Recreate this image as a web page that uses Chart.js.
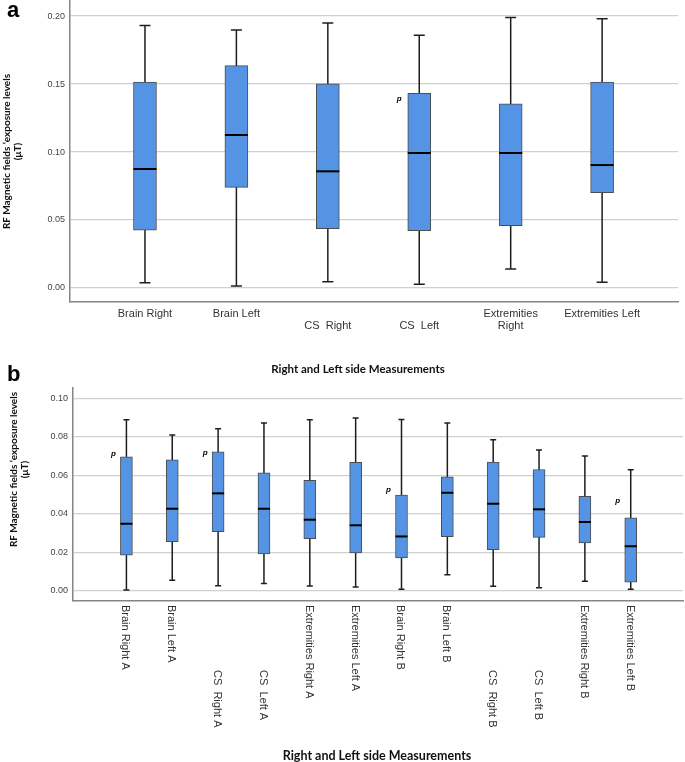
<!DOCTYPE html>
<html>
<head>
<meta charset="utf-8">
<script src="https://cdn.jsdelivr.net/npm/chart.js@4.4.1/dist/chart.umd.min.js"></script>
<style>
  body { margin: 0; background: #fff; width: 685px; height: 762px; position: relative; overflow: hidden; }
  canvas { position: absolute; left: 0; }
  .panel { position: absolute; font: bold 22px "Liberation Sans", Arial, sans-serif; line-height: 22px; color: #000; }
  .ytitle { position: absolute; width: 220px; height: 21px; text-align: center; transform: rotate(-90deg);
            font: bold 10px Lato, sans-serif; line-height: 10.5px; color: #111; white-space: nowrap; }
  .xtitle { position: absolute; font: bold 11.5px Lato, sans-serif; color: #111; white-space: nowrap; transform: translate(-50%, -50%); }
</style>
</head>
<body>
<canvas id="chart-a" width="685" height="345" style="top:0"></canvas>
<canvas id="chart-b" width="685" height="392" style="top:370px"></canvas>

<div class="panel" style="left:7px;top:-1px">a</div>
<div class="panel" style="left:7px;top:363px">b</div>
<div class="ytitle" style="left:-99px;top:141px">RF Magnetic fields ‘exposure levels<br>(μT)</div>
<div class="ytitle" style="left:-92px;top:459px">RF Magnetic fields ‘exposure levels<br>(μT)</div>
<div class="xtitle" style="left:358px;top:368px">Right and Left side Measurements</div>
<div class="xtitle" style="left:377px;top:755px;font-size:12.5px">Right and Left side Measurements</div>

<script>
// panel a
const catsA = ['Brain Right', 'Brain Left', 'CS  Right', 'CS  Left', 'Extremities Right', 'Extremities Left'];
const lowA  = [0.0039, 0.0015, 0.0046, 0.0027, 0.0140, 0.0042];
const q1A   = [0.0426, 0.0740, 0.0436, 0.0422, 0.0458, 0.0701];
const medA  = [0.0875, 0.1125, 0.0858, 0.0993, 0.0993, 0.0904];
const q3A   = [0.1515, 0.1635, 0.1502, 0.1431, 0.1355, 0.1515];
const highA = [0.1930, 0.1897, 0.1949, 0.1858, 0.1990, 0.1980];
const yTicksA = [0, 0.05, 0.10, 0.15, 0.20];
const pA = [{ i: 3, v: 0.139 }];

// panel b
const catsB = ['Brain Right A', 'Brain Left A', 'CS  Right A', 'CS  Left A', 'Extremities Right A', 'Extremities Left A',
               'Brain Right B', 'Brain Left B', 'CS  Right B', 'CS  Left B', 'Extremities Right B', 'Extremities Left B'];
const lowB  = [0.0004, 0.0054, 0.0026, 0.0038, 0.0024, 0.0019, 0.0007, 0.0083, 0.0023, 0.0016, 0.0049, 0.0007];
const q1B   = [0.0185, 0.0255, 0.0307, 0.0191, 0.0270, 0.0197, 0.0171, 0.0281, 0.0213, 0.0277, 0.0249, 0.0045];
const medB  = [0.0348, 0.0426, 0.0506, 0.0426, 0.0369, 0.0340, 0.0282, 0.0509, 0.0452, 0.0423, 0.0357, 0.0231];
const q3B   = [0.0696, 0.0680, 0.0722, 0.0613, 0.0573, 0.0667, 0.0497, 0.0592, 0.0669, 0.0630, 0.0490, 0.0379];
const highB = [0.0888, 0.0809, 0.0842, 0.0871, 0.0888, 0.0897, 0.0890, 0.0871, 0.0784, 0.0731, 0.0700, 0.0629];
const yTicksB = [0, 0.02, 0.04, 0.06, 0.08, 0.10];
const pB = [{ i: 0, v: 0.0714 }, { i: 2, v: 0.0717 }, { i: 6, v: 0.0527 }, { i: 11, v: 0.0466 }];

const sans = '"Liberation Sans", Arial, sans-serif';

// whiskers behind the boxes, medians and "p" marks on top
function boxParts(low, med, high, marks, cap, pDx) {
  return {
    id: 'boxParts',
    beforeDatasetsDraw(chart) {
      const { ctx, scales: { x, y } } = chart;
      ctx.save();
      ctx.strokeStyle = '#1e1e1e';
      ctx.lineWidth = 1.5;
      low.forEach((v, i) => {
        const px = x.getPixelForValue(i);
        const top = y.getPixelForValue(high[i]);
        const bot = y.getPixelForValue(v);
        ctx.beginPath();
        ctx.moveTo(px, top); ctx.lineTo(px, bot);
        ctx.moveTo(px - cap / 2, top); ctx.lineTo(px + cap / 2, top);
        ctx.moveTo(px - cap / 2, bot); ctx.lineTo(px + cap / 2, bot);
        ctx.stroke();
      });
      ctx.restore();
    },
    afterDatasetsDraw(chart) {
      const { ctx, scales: { x, y } } = chart;
      const meta = chart.getDatasetMeta(0);
      ctx.save();
      ctx.strokeStyle = '#000';
      ctx.lineWidth = 2;
      med.forEach((v, i) => {
        const bar = meta.data[i];
        const py = y.getPixelForValue(v);
        ctx.beginPath();
        ctx.moveTo(bar.x - bar.width / 2, py);
        ctx.lineTo(bar.x + bar.width / 2, py);
        ctx.stroke();
      });
      ctx.fillStyle = '#000';
      ctx.font = 'italic bold 8px ' + sans;
      ctx.textAlign = 'center';
      ctx.textBaseline = 'middle';
      marks.forEach(m => ctx.fillText('p', x.getPixelForValue(m.i) + pDx, y.getPixelForValue(m.v)));
      ctx.restore();
    }
  };
}

function stagA(c) {
  if (c.startsWith('CS')) return ['', c];
  if (c === 'Extremities Right') return ['Extremities', 'Right'];
  return c;
}

const rowB = [0, 0, 1, 1, 0, 0, 0, 0, 1, 1, 0, 0];
const rotLabels = {
  id: 'rotLabels',
  afterDraw(chart) {
    const { ctx, chartArea, scales: { x } } = chart;
    ctx.save();
    ctx.fillStyle = '#333';
    ctx.font = '11px ' + sans;
    ctx.textAlign = 'left';
    ctx.textBaseline = 'middle';
    catsB.forEach((c, i) => {
      ctx.save();
      ctx.translate(x.getPixelForValue(i) - 1, chartArea.bottom + 4 + rowB[i] * 65);
      ctx.rotate(Math.PI / 2);
      ctx.fillText(c, 0, 0);
      ctx.restore();
    });
    ctx.restore();
  }
};

function makeChart(id, cfg) {
  return new Chart(document.getElementById(id), {
    type: 'bar',
    data: {
      datasets: [{
        data: cfg.cats.map((c, i) => ({ x: i, y: [cfg.q1[i], cfg.q3[i]] })),
        backgroundColor: '#5594e4',
        borderColor: '#4d4d4d',
        borderWidth: 1,
        borderSkipped: false,
        barThickness: cfg.barW
      }]
    },
    options: {
      responsive: false,
      animation: false,
      layout: { padding: cfg.pad },
      plugins: { legend: { display: false }, tooltip: { enabled: false } },
      scales: {
        x: {
          type: 'linear',
          offset: false,
          min: cfg.xMin,
          max: cfg.xMax,
          afterBuildTicks: s => { s.ticks = cfg.cats.map((c, i) => ({ value: i })); },
          afterFit: s => { s.height = cfg.xH; s.paddingLeft = 0; s.paddingRight = 0; },
          grid: { display: false, drawTicks: false },
          border: { display: true, color: '#858585', width: 1.5 },
          ticks: {
            display: cfg.xTicks,
            autoSkip: false,
            maxRotation: 0,
            minRotation: 0,
            padding: 6,
            color: '#333',
            font: { family: sans, size: 11, lineHeight: 1.1 },
            callback: v => stagA(cfg.cats[v])
          }
        },
        y: {
          min: cfg.yMin,
          max: cfg.yMax,
          beginAtZero: false,
          afterBuildTicks: s => { s.ticks = cfg.yTicks.map(v => ({ value: v })); },
          afterFit: s => { s.width = cfg.yW; s.paddingTop = 0; s.paddingBottom = 0; },
          grid: { color: '#d0d0d0', lineWidth: 1.3, drawTicks: false },
          border: { display: true, color: '#858585', width: 1.5 },
          ticks: { padding: 5, color: '#444', font: { family: sans, size: 9 }, callback: v => v.toFixed(2) }
        }
      }
    },
    plugins: cfg.plugins
  });
}

makeChart('chart-a', {
  cats: catsA, q1: q1A, q3: q3A, yTicks: yTicksA,
  xMin: -0.82, xMax: 5.83, yMin: -0.0103, yMax: 0.2118,
  barW: 23, xH: 43, yW: 70, xTicks: true,
  pad: { top: 0, right: 7, left: 0, bottom: 0 },
  plugins: [boxParts(lowA, medA, highA, pA, 11, -20)]
});

makeChart('chart-b', {
  cats: catsB, q1: q1B, q3: q3B, yTicks: yTicksB,
  xMin: -1.165, xMax: 12.14, yMin: -0.00535, yMax: 0.10535,
  barW: 12, xH: 161, yW: 73, xTicks: false,
  pad: { top: 18, right: 2, left: 0, bottom: 0 },
  plugins: [boxParts(lowB, medB, highB, pB, 6, -13), rotLabels]
});
</script>
</body>
</html>
